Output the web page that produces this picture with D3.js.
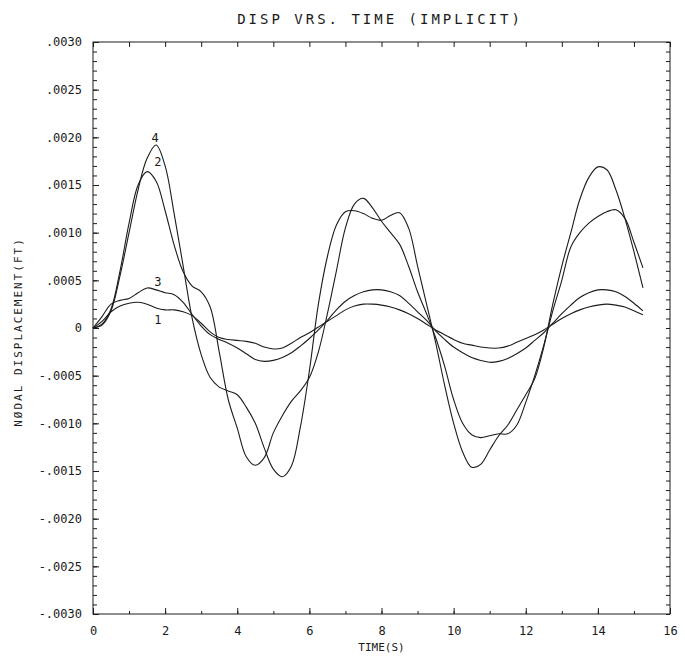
<!DOCTYPE html>
<html>
<head>
<meta charset="utf-8">
<script src="https://cdn.jsdelivr.net/npm/d3@7/dist/d3.min.js"></script>
<style>
  body { margin: 0; background: #fff; }
  svg text { font-family: "DejaVu Sans Mono", monospace; fill: #1a1a1a; }
</style>
</head>
<body>
<svg id="chart" width="685" height="663"></svg>
<script>
// time samples (s)
const time = [0, 0.25, 0.5, 0.75, 1, 1.25, 1.5, 1.75, 2, 2.25, 2.5, 2.75, 3, 3.25, 3.5, 3.75,
  4, 4.25, 4.5, 4.75, 5, 5.25, 5.5, 5.75, 6, 6.25, 6.5, 6.75, 7, 7.25, 7.5, 7.75,
  8, 8.25, 8.5, 8.75, 9, 9.25, 9.5, 9.75, 10, 10.25, 10.5, 10.75, 11, 11.25, 11.5, 11.75,
  12, 12.25, 12.5, 12.75, 13, 13.25, 13.5, 13.75, 14, 14.25, 14.5, 14.75, 15, 15.25];

// nodal displacement, in units of 0.0001 ft
const node1 = [0, 0.7, 1.7, 2.3, 2.6, 2.7, 2.5, 2.1, 1.9, 1.9, 1.7, 1.3, 0.5, -0.4, -1.0, -1.2,
  -1.3, -1.4, -1.6, -2.0, -2.2, -2.1, -1.6, -1.0, -0.5, 0.1, 0.7, 1.3, 1.9, 2.3, 2.5, 2.5,
  2.4, 2.2, 1.9, 1.5, 1.0, 0.4, -0.2, -0.7, -1.2, -1.6, -1.8, -2.0, -2.1, -2.1, -1.9, -1.5,
  -1.1, -0.7, -0.2, 0.4, 1.0, 1.5, 1.9, 2.2, 2.4, 2.5, 2.4, 2.2, 1.8, 1.4];
const node2 = [0, 0.4, 2.0, 6.0, 11.0, 15.0, 16.4, 15.4, 12.3, 8.7, 5.9, 4.4, 3.8, 2.2, -2.5, -7.5,
  -10.5, -13.5, -14.4, -13.6, -11.0, -9.2, -7.7, -6.6, -5.2, -2.5, 1.5, 6.0, 10.5, 13.0, 13.6, 12.6,
  11.2, 10.0, 8.8, 6.5, 3.8, 1.5, -1.0, -4.0, -7.5, -10.0, -11.2, -11.5, -11.3, -11.1, -11.1, -10.2,
  -7.8, -5.0, -1.8, 1.8, 5.0, 8.5, 10.0, 11.0, 11.7, 12.2, 12.4, 11.5, 9.0, 6.3];
const node3 = [0, 1.2, 2.5, 2.9, 3.1, 3.7, 4.2, 4.0, 3.7, 3.5, 2.7, 1.4, 0.2, -0.7, -1.2, -1.6,
  -2.1, -2.7, -3.3, -3.5, -3.4, -3.1, -2.6, -1.9, -1.1, -0.2, 0.8, 1.9, 2.8, 3.4, 3.8, 4.0,
  4.0, 3.8, 3.4, 2.6, 1.7, 0.8, -0.3, -1.2, -2.0, -2.6, -3.1, -3.4, -3.6, -3.5, -3.2, -2.7,
  -2.1, -1.3, -0.5, 0.5, 1.5, 2.4, 3.2, 3.7, 4.0, 4.0, 3.8, 3.3, 2.6, 1.8];
const node4 = [0, 0.3, 1.8, 5.5, 10.0, 14.5, 17.8, 19.2, 17.0, 12.0, 6.5, 1.0, -2.8, -5.2, -6.2, -6.6,
  -7.0, -8.3, -10.0, -12.6, -14.8, -15.6, -14.5, -10.4, -4.5, 2.5, 7.5, 10.8, 12.2, 12.3, 12.0, 11.5,
  11.3, 11.8, 12.1, 10.5, 6.5, 2.5, -1.5, -6.0, -10.0, -13.0, -14.6, -14.3, -12.8, -11.3, -10.2, -8.6,
  -7.0, -5.3, -2.0, 2.5, 6.5, 10.0, 13.5, 15.8, 16.9, 16.6, 14.5, 11.5, 8.0, 4.2];

// curve number labels
const curveNames = ["1", "2", "3", "4"];
const labelTime = [1.8, 1.8, 1.8, 1.72];
const labelValue = [0.85, 17.4, 4.85, 20.0];

// axis ticks
const xTicks = [0, 2, 4, 6, 8, 10, 12, 14, 16];
const xTickLabels = ["0", "2", "4", "6", "8", "10", "12", "14", "16"];
const yTicks = [0.003, 0.0025, 0.002, 0.0015, 0.001, 0.0005, 0, -0.0005, -0.001, -0.0015, -0.002, -0.0025, -0.003];
const yTickLabels = [".0030", ".0025", ".0020", ".0015", ".0010", ".0005", "0",
  "-.0005", "-.0010", "-.0015", "-.0020", "-.0025", "-.0030"];

const unit = 0.0001;
const series = [node1, node2, node3, node4];

const margin = { left: 93, right: 670, top: 42, bottom: 614 };

const svg = d3.select("#chart");

const x = d3.scaleLinear().domain([0, 16]).range([margin.left, margin.right]);
const y = d3.scaleLinear().domain([-0.003, 0.003]).range([margin.bottom, margin.top]);

const ink = "#1c1c1c";

// frame
svg.append("rect")
  .attr("x", margin.left).attr("y", margin.top)
  .attr("width", margin.right - margin.left).attr("height", margin.bottom - margin.top)
  .attr("fill", "none").attr("stroke", ink).attr("stroke-width", 1);

function styleAxis(g) {
  g.select(".domain").remove();
  g.selectAll(".tick line").attr("stroke", ink).attr("stroke-width", 1);
}

// y axis, left: labelled ticks plus minor ticks every .0001
svg.append("g")
  .attr("transform", `translate(${margin.left},0)`)
  .call(d3.axisLeft(y).tickValues(yTicks).tickSize(-6).tickPadding(11)
    .tickFormat((d, i) => yTickLabels[i]))
  .call(styleAxis)
  .call(g => g.selectAll("text").attr("font-size", 12).attr("fill", ink));

svg.append("g")
  .attr("transform", `translate(${margin.left},0)`)
  .call(d3.axisLeft(y).ticks(60).tickSize(-4).tickFormat(""))
  .call(styleAxis);

// y axis, right
svg.append("g")
  .attr("transform", `translate(${margin.right},0)`)
  .call(d3.axisRight(y).ticks(60).tickSize(-4).tickFormat(""))
  .call(styleAxis);

// x axis, bottom
svg.append("g")
  .attr("transform", `translate(0,${margin.bottom})`)
  .call(d3.axisBottom(x).tickValues(xTicks).tickSize(-6).tickPadding(12)
    .tickFormat((d, i) => xTickLabels[i]))
  .call(styleAxis)
  .call(g => g.selectAll("text").attr("font-size", 12).attr("fill", ink));

svg.append("g")
  .attr("transform", `translate(0,${margin.bottom})`)
  .call(d3.axisBottom(x).ticks(16).tickSize(-3).tickFormat(""))
  .call(styleAxis);

// x axis, top
svg.append("g")
  .attr("transform", `translate(0,${margin.top})`)
  .call(d3.axisTop(x).ticks(16).tickSize(-5).tickFormat(""))
  .call(styleAxis);

// curves
const line = d3.line()
  .x(d => x(d[0]))
  .y(d => y(d[1] * unit))
  .curve(d3.curveCatmullRom.alpha(0.5));

svg.append("g")
  .selectAll("path")
  .data(series)
  .join("path")
  .attr("d", s => line(s.map((v, i) => [time[i], v])))
  .attr("fill", "none")
  .attr("stroke", ink)
  .attr("stroke-width", 1.1);

svg.append("g")
  .selectAll("text")
  .data(curveNames)
  .join("text")
  .attr("x", (d, i) => x(labelTime[i]))
  .attr("y", (d, i) => y(labelValue[i] * unit))
  .attr("dy", "0.35em")
  .attr("text-anchor", "middle")
  .attr("font-size", 12)
  .text(d => d);

// titles
svg.append("text")
  .attr("x", 380).attr("y", 24)
  .attr("text-anchor", "middle")
  .attr("font-size", 14)
  .attr("letter-spacing", 3)
  .text("DISP VRS. TIME (IMPLICIT)");

svg.append("text")
  .attr("x", (margin.left + margin.right) / 2).attr("y", 651)
  .attr("text-anchor", "middle")
  .attr("font-size", 11)
  .text("TIME(S)");

svg.append("text")
  .attr("transform", `translate(22,332) rotate(-90)`)
  .attr("text-anchor", "middle")
  .attr("font-size", 11)
  .attr("letter-spacing", 2)
  .text("NØDAL DISPLACEMENT(FT)");
</script>
</body>
</html>
